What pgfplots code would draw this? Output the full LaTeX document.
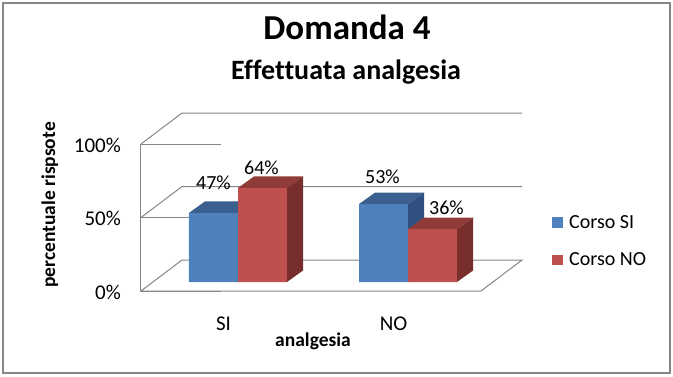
\documentclass[border=0pt]{standalone}
\usepackage{pgfplots}
\pgfplotsset{compat=1.18}
\usepackage{pgfplotstable}
\usepackage{fontspec}
\setmainfont{Carlito}[Ligatures=NoCommon]

\definecolor{bfront}{HTML}{4F81BD}
\definecolor{btop}{HTML}{3B5F8E}
\definecolor{bside}{HTML}{2F5080}
\definecolor{rfront}{HTML}{C0504D}
\definecolor{rtop}{HTML}{903B38}
\definecolor{rside}{HTML}{772E2C}
\definecolor{gridc}{HTML}{868686}

% x = category (0 = SI, 1 = NO); blue = Corso SI, red = Corso NO
% bdx/bdy, rdx/rdy = label offsets (pt) from the category centre / bar top
\pgfplotstableread{
x blue red bdx bdy rdx rdy
0 47 64 -24.5 30 23.5 20
1 53 36 -25.5 27 38.5 21
}\data

% a whole 3D bar (front, top, side), drawn from the point (category, value)
\pgfdeclareplotmark{cubeL}{%
  \pgfmathsetlengthmacro\hb{11.5pt-\hval*1.47pt}%
  \pgfmathsetlengthmacro\hf{-\hval*1.47pt}%
  \pgfpathmoveto{\pgfqpoint{-49pt}{0pt}}%
  \pgfpathlineto{\pgfqpoint{0pt}{0pt}}%
  \pgfpathlineto{\pgfqpoint{0pt}{\hf}}%
  \pgfpathlineto{\pgfqpoint{-49pt}{\hf}}%
  \pgfpathclose
  \pgfsetfillcolor{bfront}\pgfusepath{fill}%
  \pgfpathmoveto{\pgfqpoint{-49pt}{0pt}}%
  \pgfpathlineto{\pgfqpoint{0pt}{0pt}}%
  \pgfpathlineto{\pgfqpoint{16pt}{11.5pt}}%
  \pgfpathlineto{\pgfqpoint{-33pt}{11.5pt}}%
  \pgfpathclose
  \pgfsetfillcolor{btop}\pgfusepath{fill}%
  \pgfpathmoveto{\pgfqpoint{0pt}{0pt}}%
  \pgfpathlineto{\pgfqpoint{16pt}{11.5pt}}%
  \pgfpathlineto{\pgfqpoint{16pt}{\hb}}%
  \pgfpathlineto{\pgfqpoint{0pt}{\hf}}%
  \pgfpathclose
  \pgfsetfillcolor{bside}\pgfusepath{fill}%
}
\pgfdeclareplotmark{cubeR}{%
  \pgfmathsetlengthmacro\hb{11.5pt-\hval*1.47pt}%
  \pgfmathsetlengthmacro\hf{-\hval*1.47pt}%
  \pgfpathmoveto{\pgfqpoint{0pt}{0pt}}%
  \pgfpathlineto{\pgfqpoint{49pt}{0pt}}%
  \pgfpathlineto{\pgfqpoint{49pt}{\hf}}%
  \pgfpathlineto{\pgfqpoint{0pt}{\hf}}%
  \pgfpathclose
  \pgfsetfillcolor{rfront}\pgfusepath{fill}%
  \pgfpathmoveto{\pgfqpoint{0pt}{0pt}}%
  \pgfpathlineto{\pgfqpoint{49pt}{0pt}}%
  \pgfpathlineto{\pgfqpoint{65pt}{11.5pt}}%
  \pgfpathlineto{\pgfqpoint{16pt}{11.5pt}}%
  \pgfpathclose
  \pgfsetfillcolor{rtop}\pgfusepath{fill}%
  \pgfpathmoveto{\pgfqpoint{49pt}{0pt}}%
  \pgfpathlineto{\pgfqpoint{65pt}{11.5pt}}%
  \pgfpathlineto{\pgfqpoint{65pt}{\hb}}%
  \pgfpathlineto{\pgfqpoint{49pt}{\hf}}%
  \pgfpathclose
  \pgfsetfillcolor{rside}\pgfusepath{fill}%
}

\begin{document}
\begin{tikzpicture}[x=1pt,y=1pt,
  F/.style={shift={(-12pt,-9pt)}},
  B/.style={shift={(29pt,22pt)}}]
\path[use as bounding box] (0,0) rectangle (673,376);
\draw[gridc, line width=2.2pt] (3,3) rectangle (670,373);
\node[font=\bfseries\fontsize{35}{40}\selectfont, anchor=base, inner sep=0pt] at (347,337) {Domanda 4};
\node[font=\bfseries\fontsize{28}{32}\selectfont, anchor=base, inner sep=0pt] at (346,297) {Effettuata analgesia};

\begin{axis}[
  at={(153pt,94pt)}, anchor=south west,
  scale only axis, width=340pt, height=147pt,
  xmin=-0.5, xmax=1.5, ymin=0, ymax=100,
  clip=false,
  /pgf/number format/assume math mode=true,
  axis line style={draw=none}, tick style={draw=none},
  xtick={0,1}, xticklabels={SI,NO},
  ytick={0,50,100}, yticklabels={0\%,50\%,100\%},
  tick label style={font=\fontsize{21}{25}\selectfont},
  yticklabel style={anchor=base east, inner sep=0pt, xshift=-32pt, yshift=-17pt},
  xticklabel style={anchor=base, inner sep=0pt, xshift=-14.5pt, yshift=-48pt},
  xlabel={analgesia}, ylabel={percentuale rispsote},
  label style={font=\bfseries\fontsize{19.5}{23}\selectfont},
  xlabel style={at={(axis description cs:0.4706,0)}, anchor=base, inner sep=0pt, yshift=-64pt},
  ylabel style={at={(axis description cs:-0.288,0.524)}, anchor=base, inner sep=0pt},
  legend style={at={(axis description cs:1.1735,0.456)}, anchor=north west,
    draw=none, fill=none, inner sep=0pt, row sep=23pt,
    font=\fontsize{20}{24}\selectfont, nodes={inner sep=0pt}},
  legend cell align=left,
  legend image code/.code={\path[#1] (0pt,-5.5pt) rectangle (10.5pt,5pt); \path (17pt,0pt);},
]
\draw[gridc, line width=1pt] ([F]axis cs:-0.5,0) -- ([F]axis cs:1.5,0) -- ([B]axis cs:1.5,0) -- ([B]axis cs:-0.5,0) -- cycle;
\draw[gridc, line width=1pt] ([F]axis cs:-0.5,50) -- ([B]axis cs:-0.5,50) -- ([B]axis cs:1.5,50);
\draw[gridc, line width=1pt] ([F]axis cs:-0.5,100) -- ([B]axis cs:-0.5,100) -- ([B]axis cs:1.5,100);
\draw[gridc, line width=1pt] ([F]axis cs:-0.5,0) -- ([F]axis cs:-0.5,100);
\draw[gridc, line width=1pt] ([F]axis cs:-0.5,0) -- ++(-5pt,0);
\draw[gridc, line width=1pt] ([F]axis cs:-0.5,50) -- ++(-5pt,0);
\draw[gridc, line width=1pt] ([F]axis cs:-0.5,100) -- ++(-5pt,0);

\addplot[ybar, bar width=49pt, bar shift=-24.5pt, fill=bfront, draw=none]
  table[x=x, y=blue] {\data};
\addlegendentry{Corso SI}
\addplot[ybar, bar width=49pt, bar shift=24.5pt, fill=rfront, draw=none]
  table[x=x, y=red] {\data};
\addlegendentry{Corso NO}

\addplot[forget plot, only marks, mark=cubeL,
  visualization depends on={rawy \as \hval},
  visualization depends on={\thisrow{bdx} \as \ldx},
  visualization depends on={\thisrow{bdy} \as \ldy},
  nodes near coords={\pgfmathprintnumber{\pgfplotspointmeta}\%},
  nodes near coords style={anchor=center, inner sep=0pt, text=black,
    font=\fontsize{20}{24}\selectfont, xshift=\ldx pt, yshift=\ldy pt}]
  table[x=x, y=blue] {\data};
\addplot[forget plot, only marks, mark=cubeR,
  visualization depends on={rawy \as \hval},
  visualization depends on={\thisrow{rdx} \as \ldx},
  visualization depends on={\thisrow{rdy} \as \ldy},
  nodes near coords={\pgfmathprintnumber{\pgfplotspointmeta}\%},
  nodes near coords style={anchor=center, inner sep=0pt, text=black,
    font=\fontsize{20}{24}\selectfont, xshift=\ldx pt, yshift=\ldy pt}]
  table[x=x, y=red] {\data};
\end{axis}
\end{tikzpicture}
\end{document}
